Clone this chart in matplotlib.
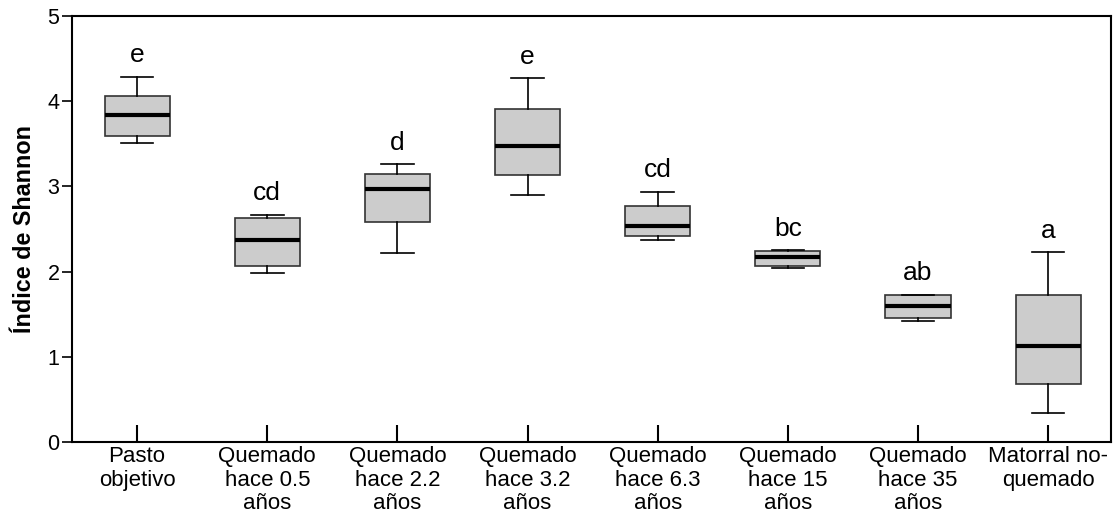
import matplotlib.pyplot as plt

plt.rcParams['font.family'] = ['Liberation Sans', 'DejaVu Sans']

# sitios y resumen de cinco numeros del indice de Shannon
sitios = ["Pasto\nobjetivo", "Quemado\nhace 0.5\naños", "Quemado\nhace 2.2\naños",
          "Quemado\nhace 3.2\naños", "Quemado\nhace 6.3\naños", "Quemado\nhace 15\naños",
          "Quemado\nhace 35\naños", "Matorral no-\nquemado"]
minimo = [3.51, 1.98, 2.22, 2.90, 2.37, 2.04, 1.42, 0.34]
q1 = [3.59, 2.07, 2.58, 3.13, 2.42, 2.07, 1.45, 0.68]
mediana = [3.84, 2.37, 2.97, 3.47, 2.54, 2.17, 1.60, 1.13]
q3 = [4.06, 2.63, 3.14, 3.91, 2.77, 2.24, 1.73, 1.73]
maximo = [4.29, 2.67, 3.26, 4.27, 2.94, 2.25, 1.73, 2.23]
letras = ["e", "cd", "d", "e", "cd", "bc", "ab", "a"]

stats = []
for i in range(len(sitios)):
    stats.append(dict(whislo=minimo[i], q1=q1[i], med=mediana[i],
                      q3=q3[i], whishi=maximo[i]))

fig = plt.figure(figsize=(11.17, 5.22), dpi=100)
ax = fig.add_axes([0.0645, 0.1533, 0.9298, 0.816])

pos = list(range(len(sitios)))
ax.bxp(stats, positions=pos, widths=0.5, capwidths=0.25, showfliers=False,
       patch_artist=True,
       boxprops=dict(facecolor='#cccccc', edgecolor='#333333', linewidth=1.2),
       medianprops=dict(color='black', linewidth=3),
       whiskerprops=dict(color='black', linewidth=1.2),
       capprops=dict(color='black', linewidth=1.2))

for x, top, txt in zip(pos, maximo, letras):
    ax.text(x, top + 0.17, txt, ha='center', va='baseline', fontsize=19)

ax.set_xlim(-0.5, 7.48)
ax.set_ylim(0, 5)
ax.set_yticks([0, 1, 2, 3, 4, 5])
ax.set_xticks(pos)
ax.set_xticklabels(sitios, fontsize=16, linespacing=1.16)
ax.tick_params(axis='x', direction='in', length=12, width=1.5, pad=3)
ax.tick_params(axis='y', direction='out', length=7, width=1.2, pad=2, labelsize=15.5)
ax.set_ylabel("Índice de Shannon", fontsize=16.8, fontweight='bold', labelpad=8)
for s in ax.spines.values():
    s.set_linewidth(1.5)

fig.savefig("out.png", dpi=100)
